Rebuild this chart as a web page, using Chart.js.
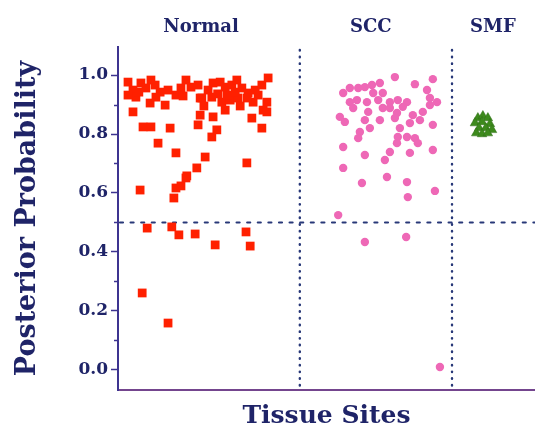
<!DOCTYPE html>
<html><head><meta charset="utf-8">
<script src="https://cdn.jsdelivr.net/npm/chart.js@4.4.0/dist/chart.umd.min.js"></script>
<style>html,body{margin:0;padding:0;background:#fff}</style>
</head><body>
<canvas id="c" width="535" height="441"></canvas>
<script>
const categories = ['Normal', 'SCC', 'SMF'];
const categoryCenters = [19.9, 60.6, 89.9];
const dividers = [43.6, 80.1];
const threshold = 0.5;
const yTicks = [0.0, 0.2, 0.4, 0.6, 0.8, 1.0];
const minorTicks = [0.1, 0.3, 0.5, 0.7, 0.9];

const normalX = [2.4,3.6,4.3,5.5,6.7,7.9,8.9,10.1,7.7,11.3,12.0,15.1,16.3,17.5,19.2,3.6,6.0,7.9,12.5,9.6,13.9,19.7,19.2,21.6,22.8,24.5,25.7,27.3,28.5,29.7,20.1,22.5,24.9,26.9,28.8,31.2,32.9,34.5,36.0,32.4,35.7,19.7,22.8,32.1,35.7,34.5,23.7,22.5,20.9,18.9,30.9,16.5,5.3,13.9,15.1,13.4,16.3,7.0,12.9,14.6,18.5,23.3,30.7,31.7,5.8,12.0,2.4,5.0,9.1,13.9,15.6,28.1,31.0,33.6,23.9,26.1,34.8,25.7,20.6,29.3];
const normalY = [0.976,0.949,0.925,0.973,0.956,0.983,0.966,0.942,0.905,0.898,0.949,0.956,0.983,0.959,0.966,0.875,0.824,0.824,0.820,0.769,0.736,0.922,0.831,0.949,0.973,0.976,0.959,0.966,0.983,0.956,0.922,0.925,0.908,0.915,0.922,0.939,0.949,0.966,0.990,0.908,0.908,0.864,0.858,0.854,0.875,0.820,0.814,0.790,0.722,0.685,0.702,0.658,0.610,0.617,0.624,0.583,0.651,0.481,0.485,0.458,0.461,0.424,0.468,0.420,0.261,0.159,0.932,0.942,0.925,0.932,0.929,0.942,0.922,0.932,0.936,0.932,0.881,0.881,0.895,0.895];

const sccX = [66.4,71.2,75.5,54.0,55.6,57.6,59.2,60.9,62.8,61.2,63.5,55.6,57.3,59.7,62.4,65.2,67.1,69.3,74.1,74.8,76.5,74.8,56.4,60.0,63.5,65.2,66.9,68.3,53.2,54.4,59.2,62.8,66.4,70.7,72.4,73.1,70.0,75.5,60.4,58.0,67.6,67.1,69.3,71.2,57.6,66.9,71.9,54.0,65.2,75.5,59.2,70.0,64.0,54.0,64.5,58.5,69.3,69.5,76.0,52.8,59.2,69.1,77.2];
const sccY = [0.993,0.969,0.986,0.939,0.956,0.956,0.959,0.966,0.973,0.939,0.939,0.908,0.915,0.908,0.915,0.908,0.915,0.908,0.949,0.922,0.908,0.898,0.888,0.875,0.888,0.888,0.871,0.892,0.858,0.841,0.847,0.847,0.854,0.864,0.847,0.875,0.837,0.831,0.820,0.807,0.820,0.790,0.790,0.786,0.786,0.769,0.769,0.756,0.739,0.746,0.729,0.736,0.712,0.685,0.654,0.634,0.637,0.586,0.607,0.525,0.434,0.451,0.010];

const smfX = [86.3,87.5,88.7,85.6,87.3,89.2,86.6,88.2,89.7,85.9,87.3,88.7];
const smfY = [0.854,0.861,0.854,0.837,0.841,0.834,0.820,0.820,0.814,0.803,0.800,0.803];

const pts = (xs, ys) => xs.map((x, i) => ({x: x, y: ys[i]}));
const SERIF = "'DejaVu Serif', 'Liberation Serif', serif";
const NAVY = '#1f2468';

const overlay = {
  id: 'overlay',
  beforeDatasetsDraw(chart) {
    const {ctx, chartArea, scales} = chart;
    ctx.save();
    ctx.strokeStyle = '#283878';
    ctx.lineCap = 'round';
    ctx.lineWidth = 2.4;
    ctx.setLineDash([0.5, 6.2]);
    dividers.forEach(v => {
      const px = scales.x.getPixelForValue(v);
      ctx.beginPath();
      ctx.moveTo(px, chartArea.top + 3);
      ctx.lineTo(px, chartArea.bottom);
      ctx.stroke();
    });
    ctx.lineWidth = 2.2;
    ctx.setLineDash([3, 7.6]);
    const py = scales.y.getPixelForValue(threshold);
    ctx.beginPath();
    ctx.moveTo(chartArea.left + 2, py);
    ctx.lineTo(chartArea.right, py);
    ctx.stroke();
    ctx.restore();
  },
  afterDraw(chart) {
    const {ctx, chartArea, scales} = chart;
    ctx.save();
    ctx.strokeStyle = '#3d3490';
    ctx.lineWidth = 1.5;
    minorTicks.forEach(v => {
      const py = Math.round(scales.y.getPixelForValue(v)) + 0.5;
      ctx.beginPath();
      ctx.moveTo(chartArea.left - 4, py);
      ctx.lineTo(chartArea.left, py);
      ctx.stroke();
    });
    ctx.fillStyle = NAVY;
    ctx.font = 'bold 18px ' + SERIF;
    ctx.textAlign = 'center';
    ctx.textBaseline = 'middle';
    categories.forEach((c, i) => {
      ctx.fillText(c, scales.x.getPixelForValue(categoryCenters[i]), 27);
    });
    ctx.restore();
  }
};

new Chart(document.getElementById('c'), {
  type: 'scatter',
  data: {
    datasets: [
      {label: categories[0], data: pts(normalX, normalY), pointStyle: 'rect', pointRadius: 6.2, backgroundColor: '#ff2000', borderWidth: 0},
      {label: categories[1], data: pts(sccX, sccY), pointStyle: 'circle', pointRadius: 4.2, backgroundColor: '#ee68b6', borderWidth: 0},
      {label: categories[2], data: pts(smfX, smfY), pointStyle: 'triangle', pointRadius: 5.5, backgroundColor: '#3d8a1c', borderColor: '#2f6e16', borderWidth: 0.5}
    ]
  },
  options: {
    responsive: false,
    animation: false,
    layout: {autoPadding: false, padding: {top: 47, right: 0, left: 0, bottom: 0}},
    plugins: {legend: {display: false}, tooltip: {enabled: false}},
    scales: {
      x: {
        type: 'linear', min: 0, max: 100, position: 'bottom',
        ticks: {display: false},
        grid: {display: false},
        border: {display: true, color: '#74458e', width: 2},
        title: {display: true, text: 'Tissue Sites', color: NAVY,
                font: {family: SERIF, weight: 'bold', size: 25}, padding: {top: 0, bottom: 10}},
        afterFit: s => { s.height = 51; }
      },
      y: {
        type: 'linear', min: -0.068, max: 1.095,
        afterBuildTicks: s => { s.ticks = yTicks.map(v => ({value: v})); },
        ticks: {callback: v => Number(v).toFixed(1),
                color: NAVY, font: {family: SERIF, weight: 'bold', size: 17}, padding: 3},
        grid: {display: true, drawOnChartArea: false, drawTicks: true, tickLength: 7, tickColor: '#3d3490', tickWidth: 1.5},
        border: {display: true, color: '#3d3490', width: 2},
        title: {display: true, text: 'Posterior Probability', color: NAVY,
                font: {family: SERIF, weight: 'bold', size: 27}, padding: {top: 12, bottom: 0}},
        afterFit: s => { s.width = 118; }
      }
    }
  },
  plugins: [overlay]
});
</script>
</body></html>
